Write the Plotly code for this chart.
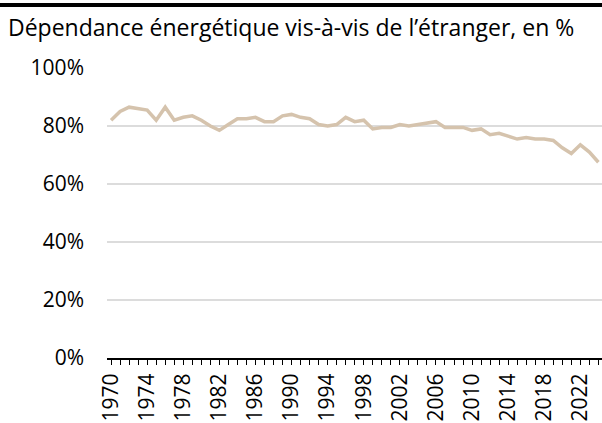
import plotly.graph_objects as go

years = list(range(1970, 2025))
dependance = [82, 85, 86.5, 86, 85.5, 82, 86.5, 82, 83, 83.5,
              82, 80, 78.5, 80.5, 82.5, 82.5, 83, 81.5, 81.5, 83.5,
              84, 83, 82.5, 80.5, 80, 80.5, 83, 81.5, 82, 79,
              79.5, 79.5, 80.5, 80, 80.5, 81, 81.5, 79.5, 79.5, 79.5,
              78.5, 79, 77, 77.5, 76.5, 75.5, 76, 75.5, 75.5, 75,
              72.5, 70.5, 73.5, 71, 67.5]
tick_years = list(range(1970, 2025, 4))
tick_labels = [str(y) for y in tick_years]
y_ticks = [0, 20, 40, 60, 80, 100]
y_labels = [f"{v}%" for v in y_ticks]

W, H = 602, 423
ml, mr, mt, mb = 107, 0, 68, 65
pw, ph = W - ml - mr, H - mt - mb

fig = go.Figure()
fig.add_trace(go.Scatter(x=years, y=dependance, mode="lines",
                         line=dict(color="#d5c3ad", width=3.5),
                         hoverinfo="skip", showlegend=False))

fig.update_layout(
    width=W, height=H,
    margin=dict(l=ml, r=mr, t=mt, b=mb, autoexpand=False),
    paper_bgcolor="white", plot_bgcolor="white",
    font=dict(family="Open Sans, Noto Sans, sans-serif", color="#000000", size=21),
    title=dict(text="Dépendance énergétique vis-à-vis de l’étranger, en %",
               x=8 / W, xanchor="left", y=1 - 28 / H, yanchor="middle",
               font=dict(size=23, color="#000")),
    xaxis=dict(range=[1969.55, 2024.4], tickmode="array", tickvals=tick_years,
               ticktext=tick_labels, tickangle=-90, ticks="outside", ticklen=5,
               tickcolor="#000", showline=True, linecolor="#000", linewidth=2,
               showgrid=False, zeroline=False, tickfont=dict(size=21),
               automargin=False,
               minor=dict(dtick=1, tick0=1970, ticks="outside", ticklen=5, tickcolor="#000")),
    yaxis=dict(range=[0, 100], tickvals=y_ticks, ticktext=y_labels,
               showgrid=True, gridcolor="#dcdcdc", gridwidth=2, zeroline=False,
               ticks="", ticklen=0, tickfont=dict(size=21), showline=False,
               ticklabelstandoff=22, automargin=False),
    shapes=[dict(type="rect", xref="paper", yref="paper",
                 x0=-ml / pw, x1=1.01,
                 y0=1 + (mt - 7) / ph, y1=1 + (mt - 3) / ph,
                 fillcolor="#000", line=dict(width=0), layer="above")],
)

fig.write_html("out.html", config={"displayModeBar": False},
               post_script="document.body.style.margin='0';document.body.style.overflow='hidden';")
